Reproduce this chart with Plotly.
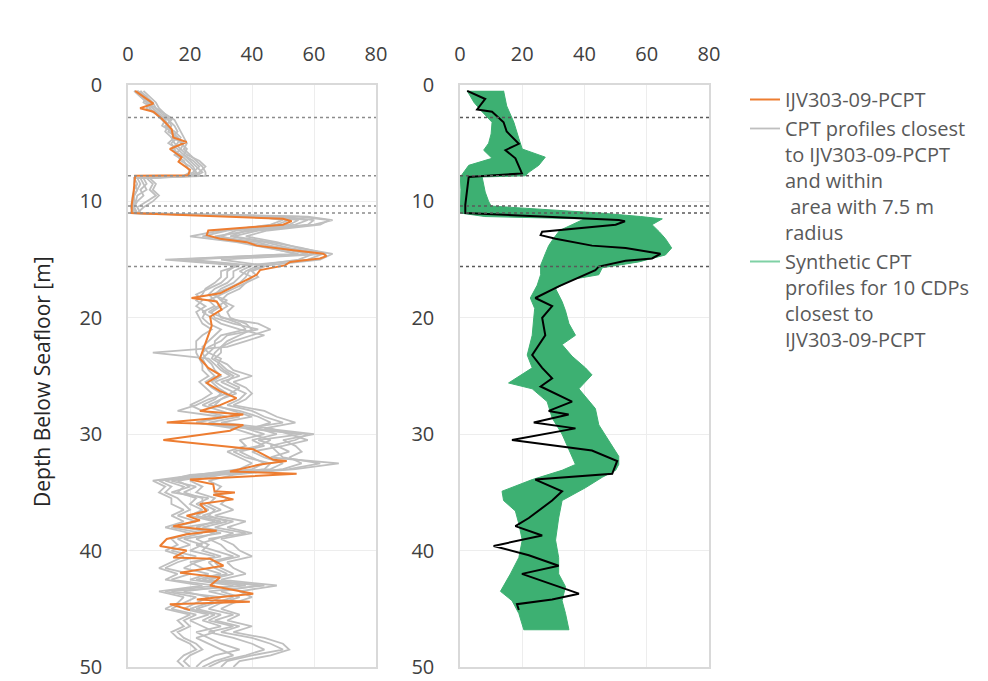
import plotly.graph_objects as go

# ---------------- data ----------------
layer_depths = [2.8, 7.8, 10.4, 11.0, 15.6]
x_ticks = [0, 20, 40, 60, 80]
y_ticks = [0, 10, 20, 30, 40, 50]

# measured profile IJV303-09-PCPT (left panel)
pcpt_depth = [0.5, 1.6, 2.0, 2.3, 2.9, 3.8, 4.5, 4.9, 5.5, 6.2, 6.6, 7.3, 7.75, 7.8, 9.2, 10.3, 11.0, 11.05,
              11.5, 11.7, 12.0, 12.5, 12.9, 13.2, 13.5, 13.8, 14.2, 14.5, 14.7, 14.9, 15.1, 15.2, 15.5, 15.9,
              16.3, 17.3, 17.9, 18.3, 18.6, 19.3, 19.9, 20.7, 21.5, 22.6, 23.5, 24.3, 24.9, 25.6, 26.3, 26.9,
              27.5, 28.0, 28.3, 28.6, 29.0, 29.2, 29.7, 30.5, 31.3, 32.2, 32.3, 32.6, 33.2, 33.4, 33.9, 34.3,
              34.9, 35.0, 35.2, 35.6, 36.0, 36.6, 37.0, 37.4, 37.9, 38.3, 38.6, 39.0, 39.6, 40.0, 40.6, 40.7,
              41.3, 41.9, 42.3, 43.0, 43.7, 44.2, 44.4, 44.6, 45.1]
pcpt_qc = [2.3, 8.2, 3.9, 8.2, 10.9, 14.1, 14.6, 18.9, 13.5, 17.3, 16.3, 20.0, 19.4, 2.3, 1.8, 1.2, 1.2, 4.7,
           50.0, 52.8, 50.0, 25.9, 25.4, 29.7, 38.3, 41.5, 53.3, 63.0, 64.0, 61.9, 55.5, 52.3, 50.6, 42.6,
           41.5, 34.0, 29.7, 20.5, 28.6, 30.2, 26.5, 27.0, 25.9, 24.3, 23.2, 25.9, 29.7, 25.4, 29.7, 35.0,
           29.7, 23.2, 37.2, 28.6, 12.5, 37.2, 32.9, 11.4, 40.4, 46.9, 51.2, 42.6, 32.9, 54.4, 20.0, 27.5,
           27.9, 34.5, 27.5, 34.0, 23.2, 25.4, 18.9, 23.2, 14.6, 28.6, 18.9, 12.5, 10.3, 18.9, 14.6, 26.5,
           30.8, 16.8, 29.7, 26.5, 40.4, 22.2, 39.3, 13.5, 20.0]

# neighbouring CPT profiles within 7.5 m radius (grey)
grey_depth = [0.5, 1.0, 1.5, 2.0, 2.5, 3.0, 3.5, 4.0, 4.5, 5.0, 5.5, 6.0, 6.5, 7.0, 7.5,
              7.8,
              8.0, 8.5, 9.0, 9.5, 10.0, 10.5, 11.0,
              11.3, 11.6, 12.0, 12.5, 13.0, 13.5, 14.0, 14.5, 15.0, 15.5, 16.0,
              16.5, 17.0, 17.5, 18.0, 18.5, 19.0, 19.5, 20.0,
              20.5, 21.0, 21.5, 22.0, 22.5, 23.0, 23.5, 24.0,
              24.5, 25.0, 25.5, 26.0, 26.5, 27.0, 27.5, 28.0,
              28.5, 29.0, 29.5, 30.0, 30.5, 31.0, 31.5, 32.0,
              32.5, 33.0, 33.5, 34.0, 34.5, 35.0, 35.5, 36.0,
              36.5, 37.0, 37.5, 38.0, 38.5, 39.0, 39.5, 40.0,
              40.5, 41.0, 41.5, 42.0, 42.5, 43.0, 43.5, 44.0,
              44.5, 45.0, 45.5, 46.0, 46.5, 47.0, 47.5, 48.0,
              48.5, 49.0, 49.5, 50.0]
grey_1 = [3, 5, 7, 8, 10, 12, 13, 14, 15, 13, 16, 18, 20, 22, 24,
          22,
          3, 4, 3, 2, 2, 1.5, 2,
          45, 55, 52, 35, 30, 38, 50, 60, 55, 42, 38,
          36, 34, 30, 28, 30, 32, 29, 30,
          42, 46, 40, 34, 30, 28, 27, 30,
          32, 36, 30, 34, 38, 36, 32, 40,
          44, 50, 38, 56, 42, 48, 52, 46,
          68, 54, 30, 20, 24, 22, 28, 26,
          30, 24, 34, 28, 38, 26, 30, 32,
          36, 28, 30, 34, 26, 42, 30, 36,
          30, 26, 34, 28, 36, 30, 40, 46,
          50, 40, 32, 30]
grey_2 = [4, 6, 8, 9, 11, 14, 12, 15, 17, 16, 14, 17, 19, 21, 22,
          20,
          5, 6, 4, 5, 3, 2, 3,
          50, 60, 58, 40, 28, 42, 48, 58, 20, 40, 36,
          40, 38, 34, 30, 26, 28, 24, 27,
          30, 36, 44, 38, 32, 8, 26, 28,
          30, 33, 28, 31, 35, 30, 28, 34,
          40, 30, 46, 52, 58, 50, 40, 44,
          50, 46, 20, 12, 18, 16, 22, 20,
          24, 20, 28, 22, 30, 18, 24, 20,
          28, 22, 18, 26, 20, 34, 18, 26,
          22, 18, 26, 20, 24, 28, 22, 26,
          30, 34, 28, 24]
grey_3 = [2, 4, 6, 7, 9, 11, 13, 12, 14, 15, 17, 15, 18, 19, 20,
          18,
          2, 3, 2, 1.5, 1.2, 1, 1.5,
          40, 52, 48, 30, 20, 35, 45, 55, 12, 35, 32,
          32, 30, 26, 22, 24, 22, 25, 24,
          26, 30, 28, 26, 24, 26, 24, 25,
          26, 28, 25, 27, 30, 28, 24, 30,
          36, 26, 42, 48, 40, 44, 36, 40,
          44, 40, 24, 10, 14, 12, 16, 18,
          20, 16, 22, 14, 24, 16, 20, 14,
          22, 16, 12, 20, 14, 28, 12, 22,
          18, 14, 22, 18, 20, 16, 18, 22,
          24, 20, 18, 20]
grey_4 = [5, 7, 9, 10, 12, 15, 16, 17, 18, 19, 18, 20, 22, 24, 25,
          25,
          6, 8, 7, 9, 6, 3, 4,
          55, 65, 62, 45, 38, 48, 55, 66, 62, 45, 40,
          42, 38, 36, 32, 30, 34, 32, 33,
          38, 40, 36, 32, 30, 30, 28, 32,
          34, 40, 34, 38, 40, 38, 34, 44,
          48, 54, 44, 60, 50, 54, 56, 52,
          56, 50, 34, 26, 30, 28, 32, 30,
          34, 28, 38, 32, 40, 30, 34, 36,
          40, 32, 34, 38, 30, 48, 36, 40,
          34, 30, 36, 32, 40, 34, 44, 50,
          52, 46, 36, 34]
grey_5 = [3, 6, 5, 8, 10, 13, 14, 13, 16, 17, 19, 18, 21, 23, 21,
          19,
          4, 5, 6, 3, 2.5, 2, 2.5,
          48, 58, 54, 38, 33, 44, 52, 63, 58, 38, 34,
          34, 32, 28, 26, 28, 30, 27, 28,
          34, 42, 32, 30, 26, 24, 25, 27,
          28, 30, 27, 29, 32, 26, 22, 16,
          30, 22, 34, 40, 46, 42, 34, 38,
          46, 44, 28, 16, 20, 14, 26, 22,
          26, 22, 30, 18, 28, 22, 26, 24,
          30, 20, 24, 30, 22, 38, 14, 30,
          26, 20, 28, 24, 30, 22, 26, 30,
          36, 28, 24, 22]
grey_6 = [4, 5, 6, 9, 12, 13, 15, 16, 14, 18, 17, 19, 23, 25, 23,
          21,
          7, 9, 8, 10, 8, 5, 3,
          58, 66, 60, 42, 34, 46, 56, 64, 30, 44, 39,
          38, 36, 32, 27, 32, 29, 26, 31,
          36, 38, 30, 28, 28, 26, 30, 29,
          31, 34, 32, 36, 33, 30, 26, 36,
          42, 46, 40, 58, 54, 46, 48, 50,
          62, 52, 26, 14, 22, 18, 24, 24,
          28, 26, 32, 24, 34, 28, 22, 28,
          34, 26, 28, 32, 24, 44, 26, 34,
          28, 22, 30, 26, 34, 26, 34, 40,
          44, 38, 30, 26]
grey_7 = [2, 4, 7, 6, 9, 12, 11, 14, 16, 14, 15, 16, 17, 20, 22,
          23,
          2, 2, 3, 2, 1.5, 1.5, 1,
          42, 50, 46, 32, 24, 38, 46, 54, 16, 36, 30,
          30, 28, 25, 24, 22, 25, 22, 23,
          24, 27, 24, 22, 22, 22, 23, 24,
          24, 26, 23, 25, 27, 24, 20, 24,
          32, 22, 38, 44, 36, 38, 32, 36,
          40, 36, 22, 8, 12, 10, 14, 14,
          18, 14, 18, 12, 20, 14, 16, 12,
          18, 14, 10, 16, 12, 24, 10, 18,
          16, 12, 20, 16, 18, 14, 16, 20,
          22, 18, 16, 18]
grey_profiles = [grey_1, grey_2, grey_3, grey_4, grey_5, grey_6, grey_7]

# reference profile on the right panel (black)
ref_depth = [0.5, 1.2, 2.1, 2.3, 3.2, 4.0, 5.05, 5.6, 6.3, 7.6, 7.9, 10.3, 11.0, 11.2, 11.6, 11.7, 12.0,
             12.6, 12.9, 13.2, 13.8, 14.0, 14.5, 14.9, 15.1, 15.6, 15.9, 17.3, 18.3, 19.0, 20.0, 21.5,
             23.2, 24.3, 25.2, 25.9, 27.2, 28.0, 28.3, 29.0, 29.5, 30.5, 31.4, 32.3, 33.4, 33.9, 34.9,
             35.7, 37.2, 37.9, 38.7, 39.6, 40.0, 40.4, 41.3, 42.0, 42.9, 43.7, 44.2, 44.6, 45.1]
ref_qc = [2.3, 8.1, 5.5, 10.3, 14.0, 15.0, 18.9, 14.6, 17.8, 19.9, 2.8, 1.7, 1.7, 18.9, 51.0, 53.0, 50.0,
          26.4, 25.9, 30.7, 42.4, 53.2, 64.4, 61.7, 53.2, 44.6, 43.5, 31.7, 24.2, 29.6, 26.4, 27.4,
          23.2, 26.4, 29.6, 25.9, 36.0, 28.5, 34.9, 23.7, 37.1, 16.7, 42.4, 50.5, 48.9, 24.2, 32.8,
          29.6, 22.1, 17.8, 26.4, 10.8, 16.7, 22.1, 31.7, 19.9, 29.6, 38.2, 29.6, 18.3, 18.9]

# envelope of the synthetic CPT profiles (green)
syn_left_depth = [0.5, 1.5, 2.3, 3.2, 4.2, 5.0, 5.6, 6.3, 6.9, 7.9, 9.0, 10.0, 11.0, 11.3, 11.5,
                  12.0, 12.5, 13.2, 13.8, 14.5, 15.5, 16.3, 17.2, 18.3, 19.2, 20.0, 21.5, 23.2, 24.3,
                  25.6, 26.1, 27.2, 28.6, 30.0, 31.4, 32.6, 33.1, 33.9, 34.9, 35.7, 36.6, 37.7, 39.1,
                  40.6, 42.0, 43.5, 44.3, 45.4, 46.8]
syn_left = [2.3, 4.5, 7.1, 10.3, 10.0, 9.2, 7.6, 10.3, 2.8, 0.1, 0.3, 0.1, 0.1, 8.0, 40.0,
            36.0, 32.0, 30.0, 28.5, 27.4, 25.9, 25.9, 24.8, 22.6, 24.0, 23.7, 23.2, 21.6, 23.2,
            15.6, 23.2, 28.0, 29.6, 32.8, 35.0, 37.1, 32.8, 23.2, 13.5, 14.0, 17.8, 18.9, 20.0,
            18.9, 16.2, 13.0, 16.7, 18.9, 20.5]
syn_right_depth = [0.5, 1.8, 3.2, 4.6, 5.5, 6.2, 6.9, 7.5, 7.8, 7.9, 9.2, 10.0, 10.4, 11.0, 11.3, 11.5,
                   12.0, 12.6, 13.2, 14.0, 14.6, 15.2, 15.7, 16.3, 16.7, 17.5, 18.6, 19.4, 20.5, 21.5,
                   22.3, 23.3, 24.3, 24.9, 26.1, 27.8, 29.2, 30.6, 31.9, 32.6, 33.1, 33.7, 34.6, 35.7,
                   37.2, 39.1, 40.6, 42.0, 43.1, 44.3, 45.4, 46.8]
syn_right = [14.0, 15.0, 17.3, 18.9, 20.0, 27.4, 25.3, 22.1, 21.0, 7.1, 8.1, 9.2, 10.0, 45.0, 58.0, 65.0,
             61.7, 64.0, 66.0, 68.0, 66.0, 57.4, 45.7, 44.6, 36.0, 30.7, 32.8, 33.9, 35.0, 37.1,
             32.8, 36.0, 40.3, 42.4, 38.2, 43.5, 44.6, 47.8, 51.0, 51.0, 50.0, 45.7, 40.3, 32.8,
             31.7, 30.7, 31.7, 31.7, 33.9, 32.8, 33.9, 35.0]

names = ["IJV303-09-PCPT",
         "CPT profiles closest<br>to IJV303-09-PCPT<br>and within<br> area with 7.5 m<br>radius",
         "Synthetic CPT<br>profiles for 10 CDPs<br>closest to<br>IJV303-09-PCPT"]

# ---------------- styles ----------------
ORANGE = "#ED7D31"
GREY = "#BFBFBF"
GREEN = "#3DB072"
FONT = "Open Sans"

fig = go.Figure()

for i, g in enumerate(grey_profiles):
    fig.add_trace(go.Scatter(x=g, y=grey_depth, mode="lines", line=dict(color=GREY, width=1.8),
                             name=names[1], showlegend=(i == 0), legendrank=2,
                             xaxis="x", yaxis="y"))
fig.add_trace(go.Scatter(x=pcpt_qc, y=pcpt_depth, mode="lines", line=dict(color=ORANGE, width=2),
                         name=names[0], legendrank=1, xaxis="x", yaxis="y"))

band_x = syn_left + syn_right[::-1]
band_y = syn_left_depth + syn_right_depth[::-1]
fig.add_trace(go.Scatter(x=band_x, y=band_y, mode="lines", fill="toself", fillcolor=GREEN,
                         line=dict(color=GREEN, width=1), showlegend=False,
                         xaxis="x2", yaxis="y2"))
fig.add_trace(go.Scatter(x=[None], y=[None], mode="lines", line=dict(color="#7FD1A5", width=2),
                         name=names[2], legendrank=3, xaxis="x2", yaxis="y2"))
fig.add_trace(go.Scatter(x=ref_qc, y=ref_depth, mode="lines", line=dict(color="black", width=2),
                         showlegend=False, xaxis="x2", yaxis="y2"))

for d in layer_depths:
    fig.add_shape(type="line", xref="x domain", yref="y", x0=0, x1=1, y0=d, y1=d,
                  line=dict(color="#8C8C8C", width=1.5, dash="dot"))
    fig.add_shape(type="line", xref="x2 domain", yref="y2", x0=0, x1=1, y0=d, y1=d,
                  line=dict(color="#595959", width=1.5, dash="dot"))

xa = dict(range=[0, 80], tickvals=x_ticks, side="top", showgrid=True, gridcolor="#EDEDED",
          zeroline=False, showline=True, linecolor="#D9D9D9", linewidth=1.5, mirror=True,
          automargin=False, ticklabeloverflow="allow",
          tickfont=dict(size=20, color="#404040", family=FONT), ticklabelstandoff=14, ticks="")
ya = dict(range=[50, 0], tickvals=y_ticks, showgrid=True, gridcolor="#EDEDED",
          zeroline=False, showline=True, linecolor="#D9D9D9", linewidth=1.5, mirror=True,
          automargin=False, ticklabeloverflow="allow",
          tickfont=dict(size=20, color="#404040", family=FONT), ticklabelstandoff=20, ticks="")

fig.update_layout(
    width=988, height=681,
    margin=dict(l=0, r=0, t=0, b=0, autoexpand=False),
    paper_bgcolor="white", plot_bgcolor="white",
    font=dict(family=FONT, color="#404040"),
    xaxis=dict(domain=[128 / 988, 376 / 988], anchor="y", **xa),
    yaxis=dict(domain=[1 - 667 / 681, 1 - 85 / 681], anchor="x", **ya),
    xaxis2=dict(domain=[460 / 988, 709 / 988], anchor="y2", **xa),
    yaxis2=dict(domain=[1 - 667 / 681, 1 - 85 / 681], anchor="x2", **ya),
    legend=dict(x=745 / 988, y=1 - 80 / 681, xanchor="left", yanchor="top", valign="top",
                font=dict(size=20, color="#595959", family=FONT), bgcolor="rgba(0,0,0,0)"),
    annotations=[dict(text="Depth Below Seafloor [m]", x=42 / 988, y=1 - 382 / 681,
                      xref="paper", yref="paper", xanchor="center", yanchor="middle",
                      showarrow=False, textangle=-90,
                      font=dict(size=21, color="#262626", family=FONT))],
)

fig.write_html("out.html", config={"displayModeBar": False},
               post_script="document.body.style.margin='0';document.body.style.overflow='hidden';")
